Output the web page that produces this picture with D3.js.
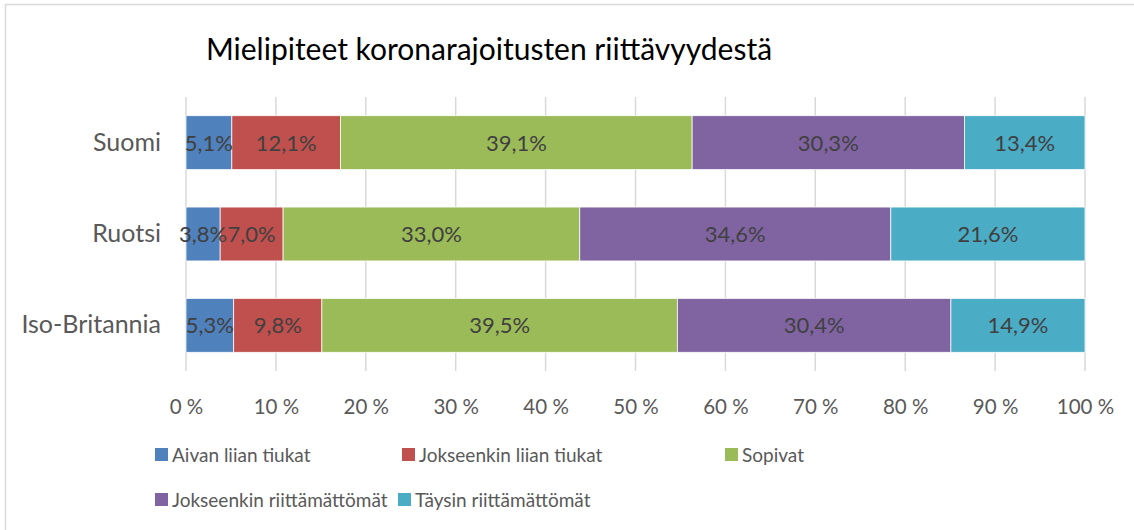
<!DOCTYPE html>
<html>
<head>
<meta charset="utf-8">
<script src="https://cdn.jsdelivr.net/npm/d3@7"></script>
<style>
  html, body { margin: 0; padding: 0; background: #fff; }
  svg { display: block; font-family: Lato, "Open Sans", sans-serif; }
</style>
</head>
<body>
<svg id="chart" width="1134" height="530"></svg>
<script>
// data
const categories = ['Suomi', 'Ruotsi', 'Iso-Britannia'];
const seriesNames = ['Aivan liian tiukat', 'Jokseenkin liian tiukat', 'Sopivat',
  'Jokseenkin riittämättömät', 'Täysin riittämättömät'];
const aivan = [5.1, 3.8, 5.3];
const jokseenkinTiukat = [12.1, 7.0, 9.8];
const sopivat = [39.1, 33.0, 39.5];
const jokseenkinRiitt = [30.3, 34.6, 30.4];
const taysin = [13.4, 21.6, 14.9];
const tickValues = [0, 0.1, 0.2, 0.3, 0.4, 0.5, 0.6, 0.7, 0.8, 0.9, 1];
const colors = ['#4F81BD', '#C0504D', '#9BBB59', '#8064A2', '#4BACC6'];

const seriesValues = [aivan, jokseenkinTiukat, sopivat, jokseenkinRiitt, taysin];

// build rows for the stack (100 % stacked -> normalise per category)
const rows = categories.map((c, i) => {
  const row = { cat: c };
  seriesNames.forEach((s, j) => { row[s] = seriesValues[j][i]; });
  return row;
});

const stack = d3.stack().keys(seriesNames).offset(d3.stackOffsetExpand);
const stacked = stack(rows);

const svg = d3.select('#chart');
const plot = { left: 186, right: 1085, top: 97, bottom: 371 };

// chart border
svg.append('rect')
  .attr('x', 5.5).attr('y', 4.5)
  .attr('width', 1140).attr('height', 540)
  .attr('fill', 'none')
  .attr('stroke', '#D9D9D9')
  .attr('stroke-width', 1.5);

svg.append('text')
  .attr('x', 489).attr('y', 60)
  .attr('text-anchor', 'middle')
  .attr('font-size', 30)
  .attr('fill', '#000')
  .text('Mielipiteet koronarajoitusten riittävyydestä');

const x = d3.scaleLinear().domain([0, 1]).range([plot.left, plot.right]);
const y = d3.scaleBand().domain(categories)
  .range([plot.top, plot.bottom])
  .paddingInner(0.41).paddingOuter(0.205);

// gridlines
svg.append('g')
  .selectAll('line')
  .data(tickValues)
  .join('line')
  .attr('x1', d => x(d)).attr('x2', d => x(d))
  .attr('y1', plot.top).attr('y2', plot.bottom)
  .attr('stroke', '#D9D9D9')
  .attr('stroke-width', 1.5);

// x axis labels
const xAxis = svg.append('g')
  .attr('transform', `translate(0,${plot.bottom})`)
  .call(d3.axisBottom(x).tickValues(tickValues)
    .tickFormat(d => Math.round(d * 100) + ' %')
    .tickSize(0).tickPadding(28));
xAxis.select('.domain').remove();
xAxis.selectAll('text')
  .attr('font-family', 'Lato, sans-serif')
  .attr('font-size', 20.5)
  .attr('fill', '#595959');

// category labels
const yAxis = svg.append('g')
  .attr('transform', `translate(${plot.left},0)`)
  .call(d3.axisLeft(y).tickSize(0).tickPadding(25));
yAxis.select('.domain').remove();
yAxis.selectAll('text')
  .attr('font-family', 'Lato, sans-serif')
  .attr('font-size', 25)
  .attr('fill', '#595959');

// bars
const layer = svg.append('g')
  .selectAll('g')
  .data(stacked)
  .join('g')
  .attr('fill', (d, i) => colors[i]);

layer.selectAll('rect')
  .data(d => d)
  .join('rect')
  .attr('x', d => x(d[0]))
  .attr('y', d => y(d.data.cat))
  .attr('width', d => x(d[1]) - x(d[0]))
  .attr('height', y.bandwidth())
  .attr('stroke', '#fff')
  .attr('stroke-width', 0.75);

// data labels
const fmt = v => v.toFixed(1).replace('.', ',') + '%';
svg.append('g')
  .selectAll('g')
  .data(stacked)
  .join('g')
  .selectAll('text')
  .data(d => d.map(p => ({ p, key: d.key })))
  .join('text')
  .attr('x', d => (x(d.p[0]) + x(d.p[1])) / 2)
  .attr('y', d => y(d.p.data.cat) + y.bandwidth() / 2 + 8)
  .attr('text-anchor', 'middle')
  .attr('font-size', 22)
  .attr('fill', '#404040')
  .text(d => fmt(d.p.data[d.key]));

// legend
const legendPos = [[155, 448], [402, 448], [725, 448], [155, 493], [398, 493]];
const legend = svg.append('g')
  .selectAll('g')
  .data(seriesNames)
  .join('g')
  .attr('transform', (d, i) => `translate(${legendPos[i][0]},${legendPos[i][1]})`);
legend.append('rect')
  .attr('width', 13).attr('height', 13)
  .attr('fill', (d, i) => colors[i]);
legend.append('text')
  .attr('x', 17).attr('y', 14)
  .attr('font-size', 19)
  .attr('fill', '#595959')
  .text(d => d);
</script>
</body>
</html>
